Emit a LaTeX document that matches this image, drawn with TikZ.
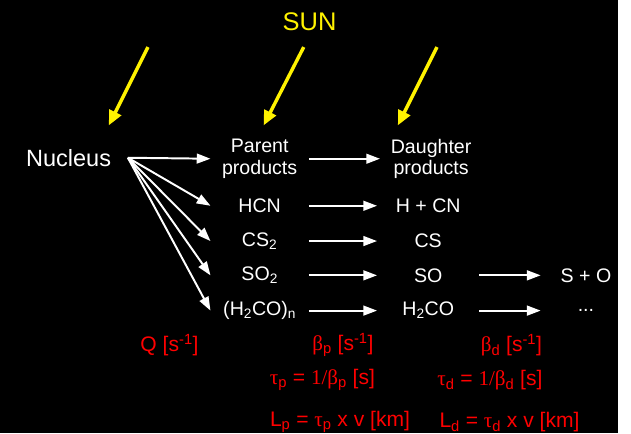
\documentclass[tikz,border=0pt]{standalone}
\usepackage{fontspec}
\setmainfont{Liberation Sans}
\newfontfamily\grfont{Liberation Serif}
\usetikzlibrary{arrows.meta}

\newcommand{\gb}{{\grfont β}}
\newcommand{\gt}{{\grfont τ}}

\begin{document}
\begin{tikzpicture}[x=1pt, y=-1pt, >={Triangle[length=14pt,width=10pt]}, every node/.style={font=\fontsize{20}{22}\selectfont, text=white, align=center, inner sep=0pt},par/.style={minimum width=100pt},dau/.style={minimum width=104pt},fin/.style={minimum width=92pt},flow/.style={->, white, line width=2pt},ray/.style={-{Triangle[length=15pt,width=13pt]}, yellow, line width=3.5pt},rate/.style={text=red, font=\fontsize{21.5}{24}\selectfont},]
\fill[black] (0,0) rectangle (631,442);
\node[text=yellow, font=\fontsize{26}{28}\selectfont] (sun) at (316,22) {SUN};
\coordinate (r1s) at (151,48);
\coordinate (r1e) at (111,128);
\coordinate (r2s) at (310,48);
\coordinate (r2e) at (269,128);
\coordinate (r3s) at (446,48);
\coordinate (r3e) at (406,128);
\draw[ray] (r1s) -- (r1e);
\draw[ray] (r2s) -- (r2e);
\draw[ray] (r3s) -- (r3e);
\node[font=\fontsize{24}{26}\selectfont, inner xsep=17pt] (nuc) at (70,161) {Nucleus};
\node[par] (pp) at (265,162) {Parent\\products};
\node[par] (hcn) at (265,210) {HCN};
\node[par] (cs2) at (265,246) {CS\textsubscript{2}};
\node[par] (so2) at (265,281) {SO\textsubscript{2}};
\node[par] (h2con) at (265,317) {(H\textsubscript{2}CO)\textsubscript{n}};
\node[dau] (dp) at (440,162) {Daughter\\products};
\node[dau] (hcn') at (437,210) {H + CN};
\node[dau] (cs) at (437,246) {CS};
\node[dau] (so) at (437,281) {SO};
\node[dau] (h2co) at (437,317) {H\textsubscript{2}CO};
\node[fin] (s+o) at (598,281) {S + O};
\node[fin] (etc) at (598,317) {...};
\draw[flow] (nuc.east) -- (pp.west);
\draw[flow] (nuc.east) -- (hcn.west);
\draw[flow] (nuc.east) -- (cs2.west);
\draw[flow] (nuc.east) -- (so2.west);
\draw[flow] (nuc.east) -- (h2con.west);
\draw[flow] (pp.east) -- (dp.west);
\draw[flow] (hcn.east) -- (hcn'.west);
\draw[flow] (cs2.east) -- (cs.west);
\draw[flow] (so2.east) -- (so.west);
\draw[flow] (h2con.east) -- (h2co.west);
\draw[flow] (so.east) -- (s+o.west);
\draw[flow] (h2co.east) -- (etc.west);
\node[rate] (q) at (173,352) {Q [s\textsuperscript{-1}]};
\node[rate] (bp) at (350,352) {\gb\textsubscript{p} [s\textsuperscript{-1}]};
\node[rate] (bd) at (522,352) {\gb\textsubscript{d} [s\textsuperscript{-1}]};
\node[rate] (tp) at (329,388) {\gt\textsubscript{p} = {\grfont 1/}\gb\textsubscript{p} [s]};
\node[rate] (td) at (500,388) {\gt\textsubscript{d} = {\grfont 1/}\gb\textsubscript{d} [s]};
\node[rate] (lp) at (347,431) {L\textsubscript{p} = \gt\textsubscript{p} x v [km]};
\node[rate] (ld) at (520,431) {L\textsubscript{d} = \gt\textsubscript{d} x v [km]};
\end{tikzpicture}
\end{document}
